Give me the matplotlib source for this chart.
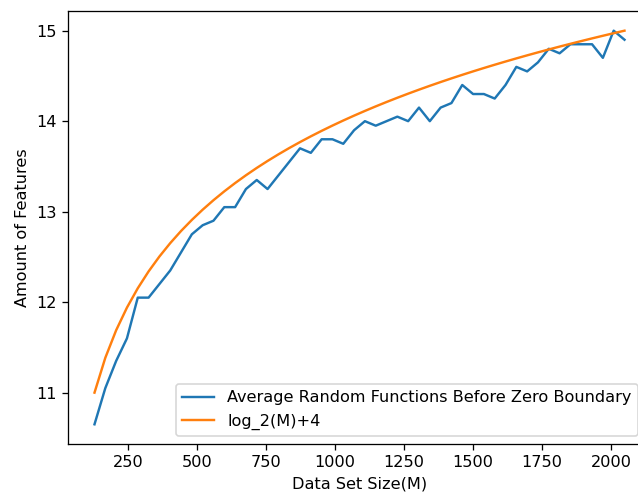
import numpy as np
import matplotlib
matplotlib.use("Agg")
import matplotlib.pyplot as plt

# Data set sizes M (50 evenly spaced sizes from 128 to 2048)
sizes = np.linspace(128, 2048, 50)

# Average number of random functions before hitting the zero boundary
avg_features = [
    10.65, 11.05, 11.35, 11.60, 12.05, 12.05, 12.20, 12.35, 12.55, 12.75,
    12.85, 12.90, 13.05, 13.05, 13.25, 13.35, 13.25, 13.40, 13.55, 13.70,
    13.65, 13.80, 13.80, 13.75, 13.90, 14.00, 13.95, 14.00, 14.05, 14.00,
    14.15, 14.00, 14.15, 14.20, 14.40, 14.30, 14.30, 14.25, 14.40, 14.60,
    14.55, 14.65, 14.80, 14.75, 14.85, 14.85, 14.85, 14.70, 15.00, 14.90,
]

# Reference curve log2(M) + 4
log_curve = np.log2(sizes) + 4

DPI = 116
W, H = 638, 493
fig = plt.figure(figsize=(W / DPI, H / DPI), dpi=DPI)
ax = fig.add_axes([68 / W, 49 / H, 583 / W, 433 / H])

ax.plot(sizes, avg_features, label="Average Random Functions Before Zero Boundary")
ax.plot(sizes, log_curve, label="log_2(M)+4")

ax.set_xlabel("Data Set Size(M)")
ax.set_ylabel("Amount of Features")
ax.legend(loc="lower right", bbox_to_anchor=(1 - 5 / 583, 0))

fig.savefig("out.png", dpi=DPI)
